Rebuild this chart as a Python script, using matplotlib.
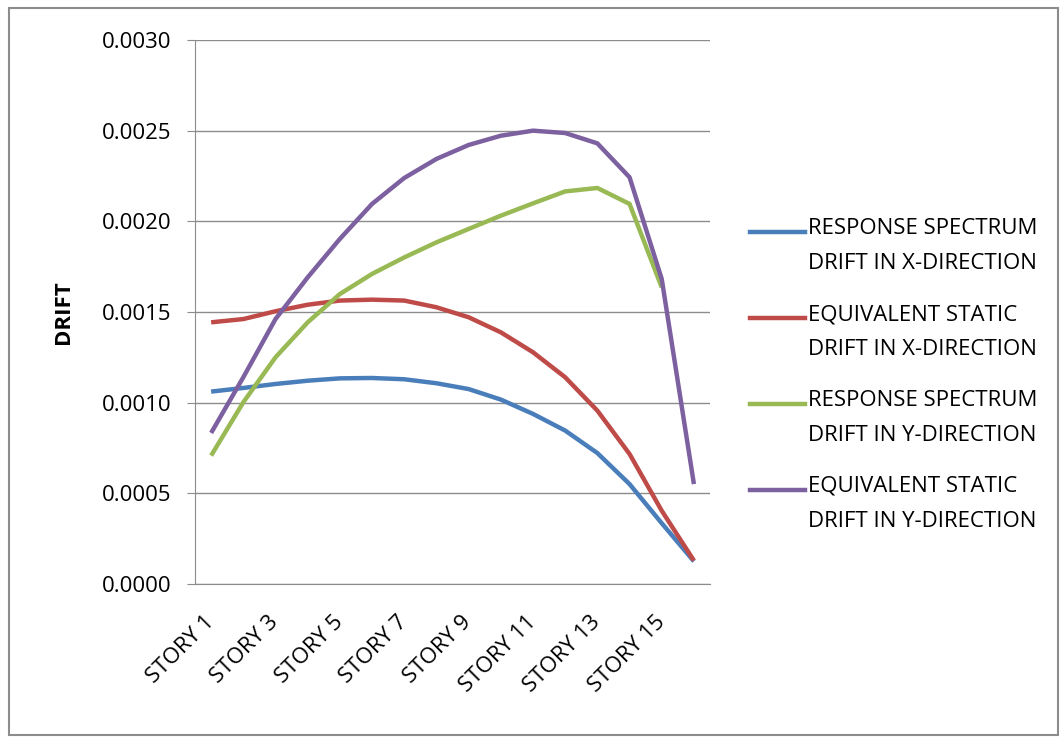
import numpy as np
import matplotlib.pyplot as plt
from matplotlib.patches import Rectangle
from matplotlib.lines import Line2D

plt.rcParams['font.family'] = ['Open Sans', 'DejaVu Sans']

# ===================== DATA =====================
stories = [f"STORY {i}" for i in range(1, 17)]

rs_x = [0.001061, 0.001081, 0.001103, 0.001121, 0.001134, 0.001136, 0.001129, 0.001107,
        0.001075, 0.001017, 0.000938, 0.000846, 0.000722, 0.000551, 0.000335, 0.000125]
es_x = [0.001443, 0.001461, 0.001504, 0.001540, 0.001563, 0.001568, 0.001563, 0.001526,
        0.001471, 0.001388, 0.001278, 0.001140, 0.000956, 0.000717, 0.000404, 0.000129]
rs_y = [0.000708, 0.001002, 0.001250, 0.001443, 0.001599, 0.001710, 0.001801, 0.001884,
        0.001958, 0.002031, 0.002099, 0.002165, 0.002184, 0.002096, 0.001636, np.nan]
es_y = [0.000833, 0.001140, 0.001461, 0.001691, 0.001903, 0.002096, 0.002239, 0.002344,
        0.002421, 0.002472, 0.002500, 0.002487, 0.002430, 0.002243, 0.001682, 0.000551]

labels = ["RESPONSE SPECTRUM\nDRIFT IN X-DIRECTION",
          "EQUIVALENT STATIC\nDRIFT IN X-DIRECTION",
          "RESPONSE SPECTRUM\nDRIFT IN Y-DIRECTION",
          "EQUIVALENT STATIC\nDRIFT IN Y-DIRECTION"]
colors = ["#4A7EBB", "#BE4B48", "#98B954", "#7D60A0"]

FS = 16

# ===================== PLOT =====================
fig = plt.figure(figsize=(10.64, 7.38), dpi=100)
ax = fig.add_axes([0.1833, 0.2087, 0.4840, 0.7371])

x = np.arange(len(stories))
for ys, lab, col in zip([rs_x, es_x, rs_y, es_y], labels, colors):
    ax.plot(x, ys, color=col, lw=3.2, label=lab, solid_capstyle='butt')

ax.set_xlim(-0.5, len(stories) - 0.5)
ax.set_ylim(0, 0.003)
yt = np.arange(0, 0.00301, 0.0005)
ax.set_yticks(yt)
ax.set_yticklabels([f"{v:.4f}" for v in yt], fontsize=FS)
ax.yaxis.grid(True, color="#8c8c8c", lw=1)
ax.set_axisbelow(True)

ax.set_xticks(x[::2])
ax.set_xticklabels(stories[::2], rotation=45, ha='right', va='center',
                   rotation_mode='anchor', fontsize=FS)
ax.tick_params(axis='x', length=0, pad=25)
ax.tick_params(axis='y', length=6, color="#8c8c8c", pad=11)

for s in ['top', 'right']:
    ax.spines[s].set_visible(False)
ax.spines['left'].set_color("#8c8c8c")
ax.spines['bottom'].set_color("#8c8c8c")

ax.set_ylabel("DRIFT", fontsize=FS, fontweight='bold', labelpad=20)

# legend: handle aligned with first text line, like the Excel original
W, H = 1064.0, 738.0
for i, (lab, col) in enumerate(zip(labels, colors)):
    yc = 232 + 86 * i
    fig.add_artist(Line2D([750 / W, 805 / W], [1 - yc / H, 1 - yc / H],
                          transform=fig.transFigure, color=col, lw=3.2))
    fig.text(808 / W, 1 - (yc - 14) / H, lab, fontsize=FS, va='top', ha='left',
             linespacing=1.85)

fig.patches.append(Rectangle((0.008, 0.004), 0.986, 0.985, transform=fig.transFigure,
                             fill=False, edgecolor="#8c8c8c", lw=1.5))

fig.savefig("out.png", dpi=100)
